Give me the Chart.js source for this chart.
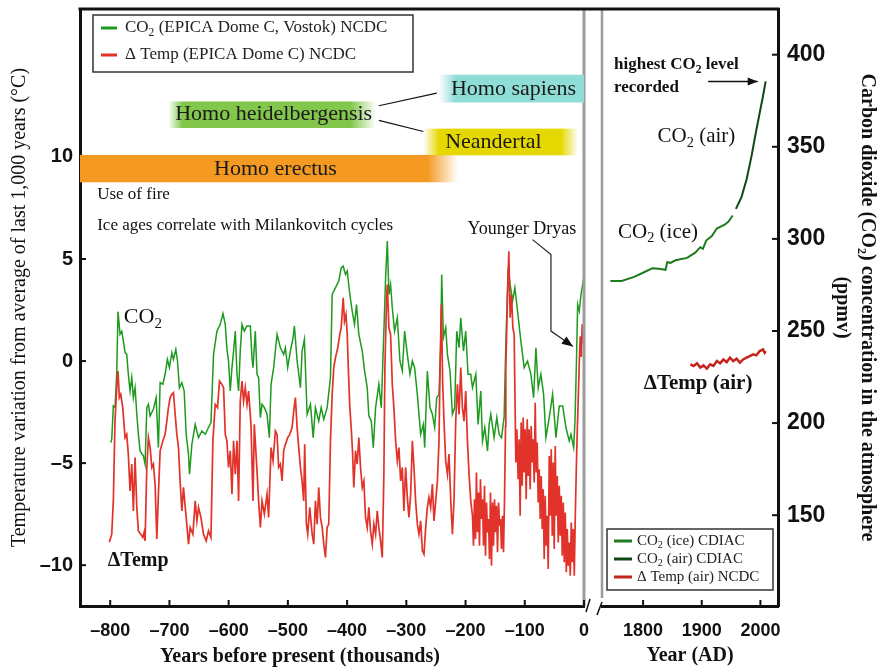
<!DOCTYPE html>
<html lang="en">
<head>
<meta charset="UTF-8">
<title>CO2 and temperature over 800,000 years</title>
<script src="https://cdn.jsdelivr.net/npm/chart.js@4"></script>
<style>
  body { margin: 0; background: #fff; }
  #wrap { position: relative; width: 880px; height: 668px; }
  #left { position: absolute; left: 0; top: 0; }
  #right { position: absolute; left: 592px; top: 0; }
</style>
</head>
<body>
<div id="wrap">
  <canvas id="left" width="592" height="668"></canvas>
  <canvas id="right" width="288" height="668"></canvas>
</div>
<script>
// ice core record, thousands of years before present
const co2Kyr = [-799.1,-797.4,-794.7,-791.9,-789.0,-786.8,-783.4,-780.5,-777.8,-774.9,
  -772.1,-769.4,-766.5,-763.6,-760.9,-758.0,-755.1,-752.4,-749.6,-744.0,
  -741.1,-738.2,-735.5,-732.6,-727.1,-722.5,-718.6,-715.7,-711.1,-707.3,
  -703.4,-700.0,-695.9,-693.2,-689.2,-686.4,-683.1,-679.0,-675.1,-671.7,
  -667.8,-666.1,-662.1,-656.5,-650.9,-645.2,-639.6,-634.0,-629.9,-625.5,
  -619.8,-614.2,-609.6,-605.7,-602.9,-600.2,-597.3,-594.4,-591.7,-588.8,
  -585.9,-583.2,-580.4,-577.5,-573.6,-569.0,-563.4,-560.6,-558.9,-555.0,
  -552.1,-549.4,-546.5,-543.6,-539.7,-535.2,-531.3,-528.4,-524.0,-518.3,
  -512.7,-507.1,-504.2,-500.3,-495.8,-491.2,-489.0,-484.4,-478.8,-476.0,
  -472.1,-467.5,-461.9,-457.3,-453.5,-447.9,-443.8,-439.4,-433.7,-428.1,
  -425.2,-419.6,-414.0,-410.0,-406.6,-402.7,-399.8,-395.4,-391.4,-387.5,
  -384.1,-380.2,-374.4,-370.5,-366.0,-363.3,-359.2,-355.8,-351.9,-346.4,
  -342.3,-337.9,-335.0,-332.1,-329.4,-326.6,-323.7,-319.8,-315.2,-310.8,
  -306.8,-302.9,-298.3,-293.9,-289.8,-286.0,-281.4,-275.8,-271.2,-269.0,
  -264.5,-260.1,-256.0,-252.1,-248.7,-244.8,-242.0,-240.3,-237.4,-233.5,
  -230.6,-226.2,-222.2,-218.3,-214.9,-211.0,-208.1,-203.5,-199.7,-195.8,
  -191.2,-188.3,-182.7,-178.8,-174.3,-171.4,-167.5,-162.9,-160.2,-157.4,
  -151.8,-147.2,-143.3,-139.3,-134.9,-132.0,-128.1,-124.7,-120.6,-116.7,
  -112.2,-106.6,-101.0,-95.3,-89.7,-85.1,-81.2,-77.3,-72.8,-68.2,
  -64.3,-58.7,-53.0,-47.4,-41.8,-36.0,-30.5,-24.9,-22.0,-17.4,
  -15.2,-13.0,-10.7,-8.0,-5.1,-2.2,0.5];
const co2Ppmv = [189.4,191.2,209.3,208.4,226.5,260.5,248.2,249.9,244.5,238.2,
  237.3,226.5,217.4,224.7,213.8,219.2,204.8,193.9,184.9,182.2,
  177.7,208.4,210.2,203.9,207.5,213.8,186.7,222.0,221.1,226.5,
  234.6,230.1,238.2,234.6,240.0,233.7,219.2,222.0,217.4,193.9,
  183.1,172.2,188.5,199.3,192.1,195.7,193.9,197.6,200.3,237.3,
  249.9,253.6,259.5,253.6,240.0,233.7,217.4,230.1,239.1,249.9,
  226.5,217.4,239.1,253.6,249.9,252.7,252.7,235.7,230.1,249.9,
  226.5,224.7,203.0,210.2,208.4,204.8,192.1,221.0,230.1,248.2,
  240.9,237.3,240.9,230.1,239.1,246.4,252.7,233.7,219.2,239.1,
  245.4,204.8,210.2,192.1,208.4,201.1,208.4,202.1,208.4,224.7,
  269.8,273.5,277.1,284.3,285.2,280.7,282.5,269.8,260.8,253.6,
  264.4,248.2,239.1,228.3,219.2,203.9,201.1,186.7,208.4,221.0,
  208.4,249.9,278.9,298.8,269.8,275.3,262.6,249.9,257.2,233.7,
  228.3,249.9,237.3,226.5,233.7,230.1,215.6,193.9,199.3,186.7,
  228.3,208.4,204.8,197.6,213.8,215.6,240.9,280.7,246.4,251.8,
  237.3,228.3,204.8,208.4,249.9,240.9,257.2,239.1,249.9,226.5,
  226.5,219.2,226.5,199.3,217.4,190.3,197.6,184.9,199.3,204.8,
  192.1,203.0,193.9,192.1,203.0,242.7,284.3,275.3,266.2,273.5,
  260.8,244.5,230.1,233.7,226.5,213.8,240.9,219.2,226.5,215.6,
  192.1,203.0,215.6,192.1,209.3,209.3,197.6,190.3,193.9,186.7,
  201.1,230.1,264.4,260.8,269.8,275.3,280.7];

const tempKyr = [-801.5,-797.4,-794.7,-791.9,-789.0,-786.8,-784.6,-782.2,-778.8,-774.9,
  -772.1,-769.4,-766.5,-763.6,-760.9,-758.0,-755.1,-752.4,-748.4,-745.0,
  -742.8,-741.1,-738.2,-735.5,-732.6,-729.7,-727.1,-724.2,-721.3,-718.6,
  -715.7,-711.1,-707.3,-704.4,-701.7,-698.8,-695.9,-693.2,-690.3,-687.5,
  -684.7,-682.0,-679.0,-676.3,-671.7,-667.8,-665.0,-660.4,-656.5,-653.6,
  -650.9,-646.8,-642.5,-637.9,-634.0,-629.9,-626.6,-622.7,-618.8,-615.4,
  -611.3,-608.6,-605.7,-602.9,-600.2,-597.3,-594.4,-591.7,-588.8,-585.9,
  -583.2,-580.4,-577.5,-574.8,-571.9,-569.0,-566.3,-562.3,-558.9,-556.7,
  -552.1,-549.4,-546.5,-543.6,-539.7,-535.2,-532.5,-528.4,-525.0,-521.1,
  -518.3,-515.6,-512.7,-509.8,-507.1,-504.2,-500.3,-496.9,-492.9,-490.1,
  -487.3,-484.4,-481.7,-478.8,-476.0,-473.3,-471.6,-468.7,-466.5,-463.1,
  -459.0,-456.3,-453.5,-450.6,-447.9,-445.0,-442.1,-439.4,-436.5,-433.7,
  -431.0,-428.1,-425.2,-422.5,-419.6,-415.7,-412.3,-410.0,-406.6,-404.4,
  -401.9,-399.8,-397.6,-395.4,-393.1,-390.9,-388.7,-385.8,-383.0,-380.2,
  -377.3,-374.4,-371.7,-368.9,-366.0,-363.3,-360.4,-357.5,-354.8,-351.9,
  -349.1,-346.4,-343.5,-340.6,-337.9,-336.2,-333.3,-332.1,-329.4,-326.6,
  -323.7,-321.0,-318.1,-315.2,-312.5,-309.6,-306.8,-304.1,-301.2,-298.3,
  -295.6,-292.7,-289.8,-287.1,-284.3,-281.4,-278.7,-275.8,-272.9,-270.2,
  -267.3,-264.5,-261.8,-258.9,-256.0,-253.3,-250.4,-247.5,-244.8,-243.1,
  -240.8,-238.6,-236.4,-233.5,-230.6,-227.9,-225.0,-222.2,-219.5,-216.6,
  -213.7,-211.0,-208.1,-205.3,-202.6,-199.7,-196.8,-194.1,-191.2,
  -188.3,-186.6,-184.9,-183.2,-181.6,-179.9,-178.2,-176.5,-174.8,-173.1,
  -171.4,-169.7,-168.0,-166.3,-164.6,-162.9,-161.2,-159.6,-157.9,-156.2,
  -154.5,-152.8,-151.1,-149.4,-147.7,-146.0,-144.3,-142.6,-140.9,-139.3,
  -137.6,-135.9,-134.2,-132.5,
  -132.0,-129.1,-126.9,-124.7,-122.3,-120.1,-117.9,
  -115.1,-113.4,-111.2,-109.5,-107.8,-106.1,-104.4,-102.7,-101.0,-99.3,
  -97.6,-95.9,-94.2,-92.6,-90.9,-89.2,-87.5,-85.8,-84.1,-82.4,
  -80.7,-79.0,-77.3,-75.6,-73.9,-72.2,-70.5,-68.9,-67.2,-65.5,
  -63.8,-62.1,-60.4,-58.7,-57.0,-55.3,-53.6,-51.9,-50.3,-48.6,
  -46.9,-45.2,-43.5,-41.8,-40.1,-38.4,-36.7,-35.0,-33.3,-31.6,
  -29.9,-28.3,-26.6,-24.9,-23.2,-21.5,-19.8,-18.1,-16.4,-14.7,
  -13.0,-11.3,-9.6,-8.0,-6.3,-4.6,-3.0,-1.5,-0.3];
const tempC = [-8.88,-8.48,-6.85,-2.94,-1.30,-0.49,-1.79,-1.63,-2.28,-3.75,
  -3.59,-4.56,-6.36,-5.05,-7.34,-4.73,-7.17,-8.32,-8.48,-8.64,
  -8.39,-8.81,-5.21,-3.75,-4.24,-5.21,-5.05,-6.03,-8.72,-6.52,
  -4.40,-3.91,-3.59,-2.94,-2.28,-1.79,-1.63,-1.55,-2.61,-3.59,
  -4.24,-5.87,-7.34,-6.19,-7.66,-8.97,-8.15,-8.48,-6.85,-7.83,
  -7.17,-7.66,-8.48,-8.81,-8.32,-8.64,-3.91,-2.12,-2.28,-0.98,
  -1.14,-1.30,-3.59,-3.91,-5.21,-4.40,-6.52,-3.91,-5.54,-3.91,
  -6.85,-1.96,-0.98,-1.96,-1.30,-2.12,-1.47,-3.10,-6.85,-3.10,
  -5.38,-6.85,-8.15,-6.85,-7.50,-6.52,-7.66,-4.24,-4.89,-3.42,
  -3.59,-5.21,-5.05,-5.87,-4.40,-4.08,-3.75,-3.59,-3.26,-2.45,
  -1.79,-3.26,-4.24,-5.21,-5.87,-6.85,-4.08,-7.99,-8.48,-7.17,
  -8.48,-8.97,-6.85,-7.99,-6.19,-7.66,-8.15,-8.97,-9.62,-8.15,
  -7.99,-3.91,-1.63,-0.32,0.17,0.66,1.31,1.63,3.10,1.96,
  2.28,1.31,-0.65,-2.28,-3.26,-4.40,-6.19,-4.40,-5.05,-3.75,
  -5.21,-6.19,-5.87,-7.66,-8.15,-7.17,-8.32,-8.97,-7.99,-8.48,
  -7.34,-8.15,-8.81,-9.62,-5.54,-0.32,3.10,3.75,1.63,1.31,
  -1.14,-2.28,-3.91,-4.89,-4.24,-5.87,-5.21,-7.34,-5.21,-6.68,
  -7.66,-6.52,-3.91,-5.21,-6.85,-7.99,-8.48,-7.83,-9.29,-9.46,
  -8.15,-7.17,-6.68,-7.17,-6.03,-7.83,-6.85,-5.87,-3.91,-0.32,
  2.77,-1.14,-2.94,-4.89,-5.54,-4.56,-6.85,-8.48,-6.85,-2.94,
  -1.14,-2.61,-0.32,-2.28,-2.94,-1.47,-3.91,-5.54,-6.85,
  -7.58,-9.05,-6.77,-8.72,-5.46,-8.39,-6.44,-9.05,-5.79,-7.74,
  -6.77,-9.05,-6.11,-9.54,-6.93,-8.39,-7.74,-9.70,-6.44,-10.03,
  -6.93,-9.05,-6.77,-8.39,-7.09,-9.37,-6.93,-8.07,-7.74,-9.21,
  -7.58,-9.37,-6.77,-3.18,
  -0.32,3.26,5.38,2.12,3.26,1.63,1.31,
  -4.97,-3.34,-5.79,-3.83,-7.58,-3.01,-6.11,-2.77,-5.46,-3.34,
  -6.77,-2.85,-5.63,-3.34,-6.28,-3.18,-4.97,-3.83,-5.95,-2.04,
  -5.46,-3.99,-6.93,-5.30,-7.74,-5.63,-8.23,-6.28,-9.70,-6.60,
  -9.05,-7.58,-10.19,-4.65,-7.58,-4.32,-8.56,-4.97,-9.21,-4.16,
  -7.58,-5.63,-8.89,-6.11,-8.56,-6.60,-9.54,-6.93,-9.86,-7.42,
  -10.35,-8.23,-10.03,-8.89,-10.52,-7.91,-9.86,-8.23,-10.52,-7.58,
  -5.30,-3.34,-1.71,-0.08,1.22,0.20,1.80,0.90,1.50];

// instrumental era, years AD
const iceYear = [1744.3,1763.5,1784.8,1801.7,1815.9,1827.0,1838.3,1841.2,1846.8,1855.2,
  1875.0,1889.0,1897.5,1902.0,1907.6,1917.2,1925.7,1939.7,1945.3,1952.7];
const icePpmv = [277.1,277.1,279.4,281.9,284.1,283.8,283.2,287.4,287.0,288.4,
  289.7,292.5,295.5,294.6,299.1,301.5,305.6,307.8,309.3,312.7];
const airYear = [1958.3,1967.9,1976.4,1984.8,1992.1,1998.8,2004.4,2009.0];
const airPpmv = [316.3,322.8,332.2,344.8,357.5,368.4,377.4,385.5];
const tAirYear = [1880.6,1886.1,1891.9,1897.5,1903.0,1908.8,1914.4,1919.9,1925.7,1931.3,
  1936.8,1942.6,1948.1,1953.7,1959.5,1965.0,1970.6,1976.4,1981.9,1987.5,
  1993.2,1998.8,2004.4,2007.3,2009.0];
const tAirC = [-0.16,-0.24,-0.11,-0.32,-0.21,-0.37,-0.16,-0.24,0.00,-0.11,
  0.08,-0.05,0.17,0.00,0.12,-0.08,0.08,0.17,0.24,0.33,
  0.28,0.49,0.57,0.41,0.49];

const tempTicks = [-10, -5, 0, 5, 10];
const kyrTicks = [-800, -700, -600, -500, -400, -300, -200, -100, 0];
const yearTicks = [1800, 1900, 2000];
const ppmvTicks = [150, 200, 250, 300, 350, 400];

// temperature and ppmv share the vertical space of both panels
const TEMP_MIN = -12, TEMP_MAX = 17.25;
const PPMV_MIN = 100.7, PPMV_MAX = 424.8;

const SERIF = '"Liberation Serif", "Times New Roman", serif';
const SANS = '"Liberation Sans", Arial, sans-serif';
const INK = '#111';

const pts = (xs, ys) => xs.map((x, i) => ({ x: x, y: ys[i] }));
const dash = v => v < 0 ? '\u2013' + Math.abs(v) : String(v);
const onlyTicks = list => s => { s.ticks = list.map(v => ({ value: v })); };
const fixBox = (w, h) => s => {
  if (w != null) s.width = w;
  if (h != null) s.height = h;
  s.paddingTop = s.paddingBottom = s.paddingLeft = s.paddingRight = 0;
};

function stroke(ctx, color, width, path) {
  ctx.strokeStyle = color; ctx.lineWidth = width;
  ctx.beginPath();
  path.forEach((p, i) => i ? ctx.lineTo(p[0], p[1]) : ctx.moveTo(p[0], p[1]));
  ctx.stroke();
}

function arrowHead(ctx, from, to, len, half) {
  const ang = Math.atan2(to[1] - from[1], to[0] - from[0]);
  ctx.fillStyle = INK;
  ctx.beginPath();
  ctx.moveTo(to[0], to[1]);
  ctx.lineTo(to[0] - len * Math.cos(ang) + half * Math.sin(ang), to[1] - len * Math.sin(ang) - half * Math.cos(ang));
  ctx.lineTo(to[0] - len * Math.cos(ang) - half * Math.sin(ang), to[1] - len * Math.sin(ang) + half * Math.cos(ang));
  ctx.closePath();
  ctx.fill();
}

// draws text, turning "₂" into a real lowered subscript
function richText(ctx, str, x, y, size, weight, align, color) {
  const parts = str.split('\u2082');
  const f = s => weight + ' ' + s + 'px ' + SERIF;
  const sub = size * 0.68;
  let total = 0;
  parts.forEach((p, i) => {
    ctx.font = f(size); total += ctx.measureText(p).width;
    if (i < parts.length - 1) { ctx.font = f(sub); total += ctx.measureText('2').width; }
  });
  let cx = align === 'center' ? x - total / 2 : align === 'right' ? x - total : x;
  ctx.fillStyle = color; ctx.textAlign = 'left'; ctx.textBaseline = 'middle';
  parts.forEach((p, i) => {
    ctx.font = f(size); ctx.fillText(p, cx, y); cx += ctx.measureText(p).width;
    if (i < parts.length - 1) {
      ctx.font = f(sub); ctx.fillText('2', cx, y + size * 0.3); cx += ctx.measureText('2').width;
    }
  });
}

function innerTicks(ctx, scale, base, len) {
  ctx.strokeStyle = INK; ctx.lineWidth = 2;
  scale.ticks.forEach(t => {
    const p = scale.getPixelForValue(t.value);
    ctx.beginPath();
    if (scale.isHorizontal()) { ctx.moveTo(p, base); ctx.lineTo(p, base + len); }
    else { ctx.moveTo(base, p); ctx.lineTo(base + len, p); }
    ctx.stroke();
  });
}

function drawLegend(ctx, chart, box, rows, sample, size) {
  ctx.fillStyle = '#fff'; ctx.fillRect(box.x, box.y, box.w, box.h);
  ctx.strokeStyle = '#333'; ctx.lineWidth = 1.5; ctx.strokeRect(box.x, box.y, box.w, box.h);
  chart.data.datasets.forEach((ds, i) => {
    const y = box.y + rows[i];
    stroke(ctx, ds.borderColor, 3, [[box.x + sample[0], y], [box.x + sample[1], y]]);
    richText(ctx, ds.label, box.x + sample[2], y, size, 'normal', 'left', '#222');
  });
}

// hominin time bands: fade-in start, solid start, solid end, fade-out end (kyr)
const bands = [
  { text: 'Homo erectus', x: [-851, -851, -264, -213], y: [10.1, 8.76], rgb: '244,154,35', tx: -521, ty: 9.38 },
  { text: 'Homo heidelbergensis', x: [-702, -678, -394, -352], y: [12.72, 11.42], rgb: '130,198,75', tx: -524, ty: 12.09 },
  { text: 'Homo sapiens', x: [-245, -217, 0, 0], y: [14.03, 12.67], rgb: '143,221,215', tx: -119, ty: 13.34 },
  { text: 'Neandertal', x: [-271, -245, -39, -10], y: [11.39, 10.08], rgb: '229,216,0', tx: -153, ty: 10.7 }
];
const notesLeft = [
  { text: 'Use of fire', x: -822, y: 8.15, size: 17, weight: 'normal', align: 'left' },
  { text: 'Ice ages correlate with Milankovitch cycles', x: -822, y: 6.64, size: 17, weight: 'normal', align: 'left' },
  { text: 'Younger Dryas', x: -105, y: 6.44, size: 18, weight: 'normal', align: 'center' },
  { text: 'CO\u2082', x: -777, y: 2.14, size: 22, weight: 'normal', align: 'left' },
  { text: '\u0394Temp', x: -804, y: -9.8, size: 20, weight: 'bold', align: 'left' }
];
const dryasArrow = [[-86.8, 5.95], [-55.8, 5.22], [-55.8, 1.47], [-18.6, 0.72]];

const leftDecor = {
  id: 'leftDecor',
  afterDraw(chart) {
    const { ctx, chartArea: a, scales } = chart;
    const X = v => scales.x.getPixelForValue(v);
    const T = v => scales.y.getPixelForValue(v);
    ctx.save();
    stroke(ctx, '#9c9c9c', 3, [[a.right, a.top], [a.right, a.bottom]]);
    stroke(ctx, INK, 3, [[a.left - 1.5, a.top], [chart.width, a.top]]);
    innerTicks(ctx, scales.x, a.bottom, -6);
    innerTicks(ctx, scales.y, a.left, 6);
    stroke(ctx, INK, 1.5, [[a.right + 2, a.bottom + 6], [a.right + 6, a.bottom - 7]]);

    ctx.save();
    ctx.beginPath(); ctx.rect(a.left, a.top, a.right - a.left, a.bottom - a.top); ctx.clip();
    bands.forEach(b => {
      const p = b.x.map(X);
      const span = Math.max(p[3] - p[0], 1);
      const g = ctx.createLinearGradient(p[0], 0, p[3], 0);
      const solid = 'rgba(' + b.rgb + ',1)', clear = 'rgba(' + b.rgb + ',0)';
      g.addColorStop(0, p[1] > p[0] ? clear : solid);
      g.addColorStop((p[1] - p[0]) / span, solid);
      g.addColorStop((p[2] - p[0]) / span, solid);
      g.addColorStop(1, p[3] > p[2] ? clear : solid);
      ctx.fillStyle = g;
      ctx.fillRect(p[0], T(b.y[0]), p[3] - p[0], T(b.y[1]) - T(b.y[0]));
      richText(ctx, b.text, X(b.tx), T(b.ty), 22, 'normal', 'center', '#1a1a1a');
    });
    ctx.restore();

    stroke(ctx, INK, 1.2, [[X(-346.4), T(12.51)], [X(-248.7), T(13.13)]]);
    stroke(ctx, INK, 1.2, [[X(-346.4), T(11.79)], [X(-271.2), T(11.25)]]);

    notesLeft.forEach(n => richText(ctx, n.text, X(n.x), T(n.y), n.size, n.weight, n.align, INK));
    const ap = dryasArrow.map(q => [X(q[0]), T(q[1])]);
    stroke(ctx, '#222', 1.2, ap);
    arrowHead(ctx, ap[ap.length - 2], ap[ap.length - 1], 11, 4.5);

    // x axis title sits left of the axis centre in the original
    richText(ctx, 'Years before present (thousands)', 300, 657, 20, 'bold', 'center', INK);

    drawLegend(ctx, chart, { x: a.left + 13, y: a.top + 6, w: 320, h: 57 }, [13, 40], [8, 24, 32], 17);
    ctx.restore();
  }
};

const notesRight = [
  { text: 'highest CO\u2082 level', x: 1750.5, y: 394.6, size: 17, weight: 'bold' },
  { text: 'recorded', x: 1750.5, y: 382.1, size: 17, weight: 'bold' },
  { text: 'CO\u2082 (air)', x: 1824.8, y: 355.5, size: 21, weight: 'normal' },
  { text: 'CO\u2082 (ice)', x: 1757.3, y: 303.5, size: 21, weight: 'normal' },
  { text: '\u0394Temp (air)', x: 1801.2, y: 221.6, size: 21, weight: 'bold' }
];

const rightDecor = {
  id: 'rightDecor',
  afterDraw(chart) {
    const { ctx, chartArea: a, scales } = chart;
    const X = v => scales.x.getPixelForValue(v);
    const P = v => scales.y.getPixelForValue(v);
    ctx.save();
    stroke(ctx, '#9c9c9c', 2.5, [[a.left, a.top], [a.left, a.bottom - 8]]);
    stroke(ctx, INK, 3, [[0, a.top], [a.right + 1.5, a.top]]);
    innerTicks(ctx, scales.x, a.bottom, -6);
    innerTicks(ctx, scales.y, a.right, -6);
    stroke(ctx, INK, 1.5, [[a.left - 5, a.bottom + 9], [a.left, a.bottom - 4]]);

    notesRight.forEach(n => richText(ctx, n.text, X(n.x), P(n.y), n.size, n.weight, 'left', INK));
    const from = [X(1911), P(385.4)], to = [X(1995.4), P(385.4)];
    stroke(ctx, INK, 1.5, [from, to]);
    arrowHead(ctx, from, to, 10, 4);

    drawLegend(ctx, chart, { x: a.left + 5, y: a.bottom - 77, w: 166, h: 61 }, [12, 30, 48], [7, 25, 30], 15);
    ctx.restore();
  }
};

const border = { color: INK, width: 3 };
const noGrid = { display: false, drawTicks: false };
const line = (label, data, color, axis, width, order) => ({
  label: label, data: data, yAxisID: axis, borderColor: color, backgroundColor: color,
  borderWidth: width, pointRadius: 0, tension: 0, fill: false, order: order
});

new Chart(document.getElementById('left'), {
  type: 'line',
  data: {
    datasets: [
      line('CO\u2082 (EPICA Dome C, Vostok) NCDC', pts(co2Kyr, co2Ppmv), '#1e9a1e', 'yCO2', 1.5, 1),
      line('\u0394 Temp (EPICA Dome C) NCDC', pts(tempKyr, tempC), '#e2332a', 'y', 1.7, 0)
    ]
  },
  options: {
    responsive: false, animation: false, events: [],
    layout: { padding: { left: 0, top: 9, right: 8, bottom: 0 } },
    plugins: { legend: { display: false }, tooltip: { enabled: false } },
    scales: {
      x: {
        type: 'linear', min: -851, max: 0,
        afterBuildTicks: onlyTicks(kyrTicks), afterFit: fixBox(null, 62),
        grid: noGrid, border: border,
        ticks: { font: { family: SANS, size: 18, weight: 'bold' }, color: INK, padding: 14,
                 autoSkip: false, maxRotation: 0, callback: dash }
      },
      y: {
        min: TEMP_MIN, max: TEMP_MAX,
        afterBuildTicks: onlyTicks(tempTicks), afterFit: fixBox(80, null),
        grid: noGrid, border: border,
        ticks: { font: { family: SANS, size: 20, weight: 'bold' }, color: INK, padding: 7, callback: dash },
        title: { display: true, text: 'Temperature variation from average of last 1,000 years (\u00b0C)',
                 font: { family: SERIF, size: 20 }, color: INK, padding: { top: 8, bottom: 0 } }
      },
      yCO2: { display: false, min: PPMV_MIN, max: PPMV_MAX }
    }
  },
  plugins: [leftDecor]
});

new Chart(document.getElementById('right'), {
  type: 'line',
  data: {
    datasets: [
      line('CO\u2082 (ice) CDIAC', pts(iceYear, icePpmv), '#1f7a1f', 'y', 2, 1),
      line('CO\u2082 (air) CDIAC', pts(airYear, airPpmv), '#0f4812', 'y', 2, 1),
      line('\u0394 Temp (air) NCDC', pts(tAirYear, tAirC), '#c4261c', 'yT', 2.5, 0)
    ]
  },
  options: {
    responsive: false, animation: false, events: [],
    layout: { padding: { left: 10, top: 9, right: 0, bottom: 0 } },
    plugins: { legend: { display: false }, tooltip: { enabled: false } },
    scales: {
      x: {
        type: 'linear', min: 1730, max: 2030,
        afterBuildTicks: onlyTicks(yearTicks), afterFit: fixBox(null, 62),
        grid: noGrid, border: border,
        ticks: { font: { family: SANS, size: 18, weight: 'bold' }, color: INK, padding: 14,
                 autoSkip: false, maxRotation: 0, callback: v => String(v) },
        title: { display: true, text: 'Year (AD)', font: { family: SERIF, size: 20, weight: 'bold' },
                 color: INK, padding: 0 }
      },
      y: {
        position: 'right', min: PPMV_MIN, max: PPMV_MAX,
        afterBuildTicks: onlyTicks(ppmvTicks), afterFit: fixBox(102, null),
        grid: noGrid, border: border,
        ticks: { font: { family: SANS, size: 23, weight: 'bold' }, color: INK, padding: 9 },
        title: { display: true, text: ['Carbon dioxide (CO\u2082) concentration in the atmosphere', '(ppmv)'],
                 font: { family: SERIF, size: 20, weight: 'bold', lineHeight: 1.25 }, color: INK, padding: 0 }
      },
      yT: { display: false, min: TEMP_MIN, max: TEMP_MAX }
    }
  },
  plugins: [rightDecor]
});
</script>
</body>
</html>
